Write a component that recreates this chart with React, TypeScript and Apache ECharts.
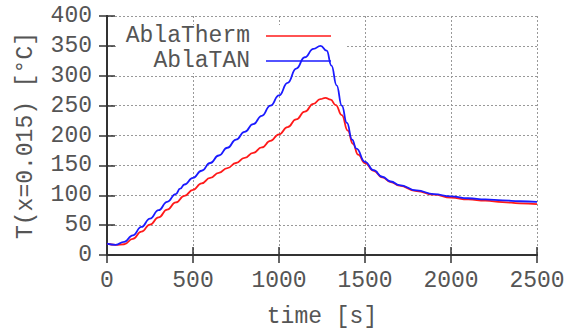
import React, { useEffect, useRef } from "react";
import * as echarts from "echarts";

const seriesNames = ["AblaTherm", "AblaTAN"];
const seriesColors = ["#ff1a1a", "#1a1aff"];

const thermTime = [0, 50, 100, 150, 200, 250, 300, 350, 400, 450, 500, 550, 600, 650, 700, 750, 800, 850, 900, 950, 1000, 1050, 1100, 1150, 1200, 1240, 1270, 1300, 1330, 1365, 1400, 1430, 1460, 1500, 1550, 1600, 1650, 1700, 1800, 1900, 2000, 2100, 2200, 2300, 2400, 2500];
const thermTemp = [19, 17, 18, 27, 39, 51, 63, 76, 88, 99, 109, 120, 129, 137.5, 145.5, 154, 162.5, 171, 180, 191, 202, 214, 227, 240, 253, 261, 263, 260, 251, 234, 208, 186, 168, 154, 141, 130, 122, 116, 107, 101, 96, 93, 91, 88.5, 86.5, 85];

const tanTime = [0, 50, 100, 150, 200, 250, 300, 350, 400, 425, 450, 500, 550, 600, 650, 700, 750, 800, 850, 900, 950, 1000, 1050, 1100, 1150, 1200, 1242, 1277, 1305, 1335, 1365, 1395, 1425, 1450, 1500, 1550, 1600, 1650, 1700, 1800, 1900, 2000, 2100, 2200, 2300, 2400, 2500];
const tanTemp = [19, 17, 22, 33, 47, 61, 75, 89, 102, 111, 118, 129, 141, 154, 166.5, 179.5, 193, 206, 219, 233, 250, 267, 288, 312, 331, 345, 350, 342, 317, 284, 250, 221, 193, 178, 156, 142, 131, 123, 117, 108, 102, 98, 95, 93, 91.5, 90, 89];

const xTicks = { min: 0, max: 2500, interval: 500 };
const yTicks = { min: 0, max: 400, interval: 50 };

const xTitle = "time [s]";
const yTitle = "T(x=0.015) [°C]";

const FONT = "'Liberation Mono', 'DejaVu Sans Mono', monospace";

export default function App() {
  const ref = useRef<HTMLDivElement>(null);
  useEffect(() => {
    if (!ref.current) return;
    const chart = echarts.init(ref.current, null, { renderer: "svg" });
    const axisLine = { show: true, lineStyle: { color: "#333", width: 2 } };
    const axisTick = { show: true, inside: true, length: 8, lineStyle: { color: "#333", width: 1.5 } };
    const splitLine = { show: true, lineStyle: { color: "#999", width: 1, type: [2, 2] as any } };
    const labelStyle = { color: "#555", fontFamily: FONT, fontSize: 23 };
    const plain = (v: number) => String(v);
    const zip = (t: number[], v: number[]) => t.map((x, i) => [x, v[i]]);
    const legendRows = [36, 61];
    const graphic: any[] = [
      { type: "rect", z: 1, shape: { x: 116, y: 25, width: 229, height: 48 }, style: { fill: "#fff" } },
    ];
    seriesNames.forEach((name, i) => {
      graphic.push({
        type: "text", z: 5, x: 250, y: legendRows[i],
        style: { text: name, textAlign: "right", textVerticalAlign: "middle", fill: "#555", font: `23px ${FONT}` },
      });
      graphic.push({
        type: "line", z: 5, shape: { x1: 266, y1: legendRows[i], x2: 331, y2: legendRows[i] },
        style: { stroke: seriesColors[i], lineWidth: 1.5 },
      });
    });
    chart.setOption({
      animation: false,
      backgroundColor: "#fff",
      grid: { left: 107, right: 34, top: 16, bottom: 76 },
      xAxis: [
        {
          type: "value", ...xTicks, position: "bottom",
          axisLine, axisTick, splitLine,
          axisLabel: { ...labelStyle, margin: 14, formatter: plain },
          name: xTitle, nameLocation: "middle", nameGap: 50,
          nameTextStyle: { ...labelStyle },
        },
        {
          type: "value", ...xTicks, position: "top",
          axisLine, axisTick, splitLine: { show: false }, axisLabel: { show: false },
        },
      ],
      yAxis: [
        {
          type: "value", ...yTicks, position: "left",
          axisLine, axisTick, splitLine,
          axisLabel: { ...labelStyle, margin: 15, formatter: plain },
          name: yTitle, nameLocation: "middle", nameGap: 70, nameRotate: 90,
          nameTextStyle: { ...labelStyle },
        },
        {
          type: "value", ...yTicks, position: "right",
          axisLine, axisTick, splitLine: { show: false }, axisLabel: { show: false },
        },
      ],
      graphic,
      series: [
        {
          name: seriesNames[0], type: "line", data: zip(thermTime, thermTemp),
          showSymbol: false, smooth: 0.5, smoothMonotone: "x", z: 3,
          lineStyle: { color: seriesColors[0], width: 1.8 },
        },
        {
          name: seriesNames[1], type: "line", data: zip(tanTime, tanTemp),
          showSymbol: false, smooth: 0.5, smoothMonotone: "x", z: 4,
          lineStyle: { color: seriesColors[1], width: 1.8 },
        },
      ],
    });
    return () => chart.dispose();
  }, []);
  return <div ref={ref} style={{ position: "absolute", left: 0, top: 0, width: 571, height: 333 }} />;
}
